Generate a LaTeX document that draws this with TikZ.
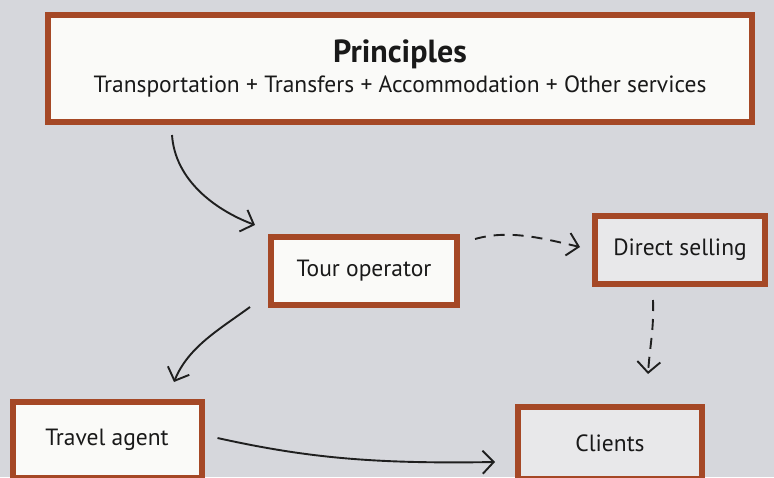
\documentclass[tikz,border=0pt]{standalone}
\usepackage{fontspec}
\setmainfont{PT Sans}
\usetikzlibrary{arrows.meta,calc}
\definecolor{bgc}{RGB}{214,215,220}
\definecolor{brd}{RGB}{165,72,38}
\definecolor{boxw}{RGB}{250,250,248}
\definecolor{boxg}{RGB}{232,232,234}
\tikzset{
  box/.style={draw=brd, line width=6pt, fill=boxw, inner sep=0pt, font=\fontsize{23.5}{26}\selectfont, text=black!90},
  conn/.style={line width=1.9pt, black!88, -{Straight Barb[length=11pt,width=23pt,line width=1.9pt]}},
  dconn/.style={conn, dash pattern=on 11pt off 8pt},
}
\begin{document}
\begin{tikzpicture}[x=1pt,y=-1pt]
\fill[bgc] (0,0) rectangle (774,477);
\useasboundingbox (0,0) rectangle (774,477);
\node[box, minimum width=704pt, minimum height=107pt, align=center] (P) at (400,68.5)
  {{\fontsize{32}{34}\selectfont\bfseries Principles}\\[4pt]Transportation + Transfers + Accommodation + Other services};
\node[box, minimum width=186pt, minimum height=68pt] (T) at (364,271) {Tour operator};
\node[box, fill=boxg, minimum width=170pt, minimum height=68pt] (D) at (680,250) {Direct selling};
\node[box, minimum width=189pt, minimum height=76pt] (A) at (107,440) {Travel agent};
\node[box, fill=boxg, minimum width=184pt, minimum height=72pt] (C) at (610,443) {Clients};
\draw[conn] ($(P.south west)+(127,10)$) .. controls +(3,45) and +(-40,-15) .. ($(T.north west)+(-13,-9)$);
\draw[dconn] ($(T.north east)+(15,5)$) .. controls +(35,-10) and +(-35,-8) .. ($(D.west)+(-12,-3)$);
\draw[dconn] ($(D.south)+(-27,13)$) .. controls +(1,30) and +(2,-30) .. ($(C.north)+(38,-30)$);
\draw[conn] ($(T.south west)+(-18,-1)$) .. controls +(-30,22) and +(14,-35) .. ($(A.north)+(67,-17)$);
\draw[conn] ($(A.east)+(13,-2)$) .. controls +(90,20) and +(-120,2) .. ($(C.west)+(-20,19)$);
\end{tikzpicture}
\end{document}
